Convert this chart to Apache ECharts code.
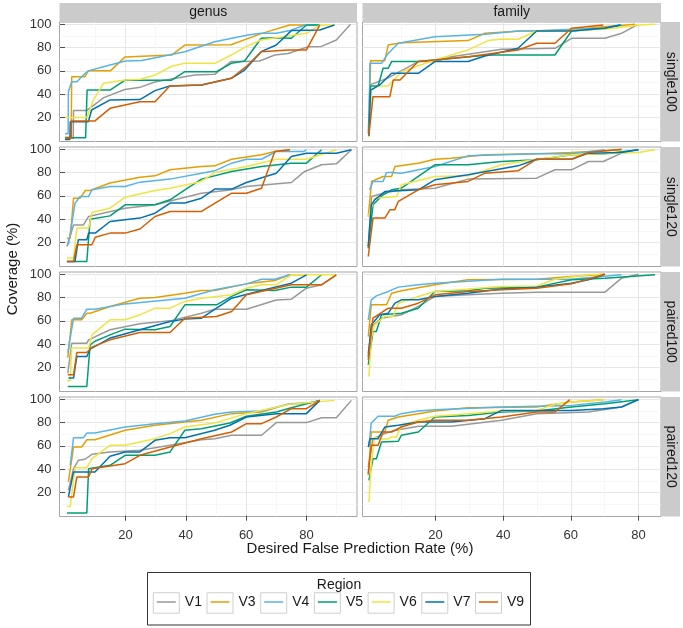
<!DOCTYPE html>
<html><head><meta charset="utf-8">
<script src="https://cdn.jsdelivr.net/npm/echarts@6/dist/echarts.min.js"></script>
<style>html,body{margin:0;padding:0;background:#fff}#c{width:683px;height:628px}</style>
</head><body><div id="c"></div>
<script>
const regions = ['V1','V3','V4','V5','V6','V7','V9'];
const colors = ['#999999','#E69F00','#56B4E9','#009E73','#F0E442','#0072B2','#D55E00'];
const taxa = ['genus','family'];
const designs = ['single100','single120','paired100','paired120'];
const xTicks = [20,40,60,80];
const xMinor = [10,30,50,70,90];
const yTicks = [20,40,60,80,100];
const yMinor = [10,30,50,70,90];

// genus single100
const genus_single100_V1 = [[0,2],[2.7,2],[2.8,26],[7.2,26],[8.8,29],[12.8,37],[19.8,44],[25,46],[30,50.7],[43,56.5],[49.6,57],[55,68],[59.5,68],[64.5,68.5],[69.5,73.6],[74,75],[80.5,80.8],[85,81],[89.9,86.5],[94.6,100]];
const genus_single100_V3 = [[0,3],[2,3],[2.2,55],[6.6,55],[7.7,60],[15,60],[19.9,72],[35.3,73.6],[39.7,82.2],[55,82.5],[65,92],[74.4,99.4],[79.4,99.4]];
const genus_single100_V4 = [[0,6],[1,6],[1.1,42],[2.2,50.7],[3.9,50.7],[5.5,55],[7.7,60],[12.7,63.6],[20,68.5],[25.4,69],[39.7,76.5],[49.6,85],[60.6,90.8],[65,92.3],[70,92.3],[75,95],[79.4,99.4],[84.4,99.4]];
const genus_single100_V5 = [[0,2.6],[6.8,2.6],[7.3,43.5],[14.9,43.5],[19.9,52],[35.3,52],[39.7,59.3],[50.2,59.3],[55.1,66.5],[59.5,68.5],[65,88],[70,88.5],[75,88],[80,99.4],[84.4,99.4]];
const genus_single100_V6 = [[0,20],[7.2,20],[9.4,35],[12.7,49.3],[19.9,52.2],[25,52.8],[29.8,56.4],[35.3,64],[39.7,66.5],[49.6,66.5],[55.1,73.6],[60,80.8],[65,86.5],[70,88.5],[80,92.3],[84.4,99.4],[89.3,99.4]];
const genus_single100_V7 = [[0,1],[1.6,1],[1.7,16.3],[7.7,16.3],[8.8,26.4],[14.9,35],[24.8,35.3],[29.8,43],[34.7,47],[45.2,47.9],[55.1,53.6],[59.5,60.7],[65,76.5],[70,82.2],[75,94.6],[84.4,95.1],[89.3,99.4]];
const genus_single100_V9 = [[0,2],[2,2],[2.1,17],[9.9,17],[14.9,27.8],[24.8,33.5],[29.8,33.5],[34.7,47],[45.2,47.9],[55.1,53.6],[60,63.6],[65,76.5],[74,78],[80,78],[84.4,99.4]];
// family single100
const family_single100_V1 = [[0.1,6],[0.6,48],[6,54],[14.9,68],[19.8,68],[24.7,72.2],[39.5,78.5],[55.3,79.4],[60.2,88],[70.1,88],[75,92.3],[79.5,99.4]];
const family_single100_V3 = [[0.3,8],[0.8,68.8],[5,68.8],[6,82.2],[9.9,84.2],[29.6,86],[34.6,92.3],[45.4,94.3],[60.2,95.1],[69.6,98],[75,98.9],[79,100]];
const family_single100_V4 = [[0.3,12],[0.6,66.5],[4,66.5],[6,75],[9,83.7],[19.8,89.4],[34.6,91.4],[44.4,94.3],[49.9,94.3],[60.2,95.7],[70.1,96.6],[74.5,99.4]];
const family_single100_V5 = [[0.3,9],[0.8,47],[3,47],[4.5,62.2],[6,62.2],[7,68],[14.9,68],[19.8,69.3],[35.6,73.6],[55.3,73.6],[60.2,94.3],[70,96.6],[75,99.4]];
const family_single100_V6 = [[0.3,3],[1,43.5],[3,47],[6,47],[9.9,59.3],[19.8,69.3],[29.6,78],[35.6,86],[39.5,87.4],[44.4,87.2],[49.9,94.3],[55.3,94.3],[70,95.7],[80.3,99.4],[84.9,100]];
const family_single100_V7 = [[0.3,4],[0.8,43.5],[3.5,47.9],[7,57.9],[14.9,57.9],[19.8,68],[29.6,68],[34.6,72.8],[44.4,79.4],[49.9,94.3],[60.2,94.3],[70.1,96.6],[74.5,99.4]];
const family_single100_V9 = [[0.3,5],[1.5,37.8],[6.5,37.8],[7.5,52.2],[9.5,52.2],[11.9,59.3],[14.9,68],[29.6,72.2],[44.4,78],[49.9,83.7],[55.3,83.7],[60.2,96.6],[69.6,99.4]];
// genus single120
const genus_single120_V1 = [[0.6,16.5],[2.8,35],[6.1,35],[7.8,42.3],[19.9,49.4],[29.8,52.3],[45.2,62.3],[54.6,65],[60.1,68],[75,71.5],[79.4,81],[85,86.7],[89.9,87.5],[94.9,99.6]];
const genus_single120_V3 = [[0.6,23.6],[1.7,23.6],[2.8,58],[5,58],[6.7,64.6],[8.3,64.6],[14.9,71],[24.8,76],[29.8,77.2],[34.8,82.4],[45.2,85.3],[49.6,85.8],[55.2,91.5],[65.1,95.3],[69.5,98.1],[74.5,99.6]];
const genus_single120_V4 = [[1.1,18],[3.3,53.8],[5,59.5],[7.8,59.5],[8.9,65.2],[14.9,68],[19.9,68],[24.8,71.8],[34.8,74.4],[45.2,79.5],[49.6,81.5],[55.2,88.1],[60.1,91.5],[65.1,91.5],[70,98.1],[79,98.1],[80,99.6]];
const genus_single120_V5 = [[0.6,3.6],[7.2,3.6],[8.3,40],[14.9,42.8],[19.9,52.3],[29.8,52.3],[34.8,56.6],[39.7,65.2],[45.2,74.4],[55.2,81],[65.1,85.3],[75,88.1],[80,88.1],[85,99.6]];
const genus_single120_V6 = [[0.6,6.5],[2.8,6.5],[3.9,32.3],[7.8,32.3],[8.9,45.7],[14.9,49.4],[19.9,58.9],[29.8,64.6],[34.8,66.6],[45.2,72.4],[49.6,80.1],[60.1,85.3],[70,91.5],[80,91.5],[89.9,99.6]];
const genus_single120_V7 = [[0.6,3.6],[3.3,3.6],[4.4,22.3],[7.2,22.3],[7.8,28],[10,28],[14.9,38],[24.8,40.9],[29.8,45.1],[34.8,53.8],[39.7,53.8],[45.2,58],[49.6,65.8],[55.2,65.8],[60.1,71.5],[70,79.5],[75,93.8],[80,96.7],[89.9,96.7],[94.9,99.6]];
const genus_single120_V9 = [[0.6,3.6],[2.8,3.6],[3.9,18],[8.9,18],[10,24.5],[14.9,28],[19.9,28],[24.8,31.5],[29.8,42.3],[34.8,46.6],[45.2,46.6],[55.2,62.3],[60.1,62.3],[65.1,66.6],[69.5,98.1],[74.5,99.6]];
// family single120
const family_single120_V1 = [[0.1,16.5],[1.1,59.5],[4.5,62.3],[9.9,65.2],[19.8,66.6],[29.6,74.4],[49.9,75.2],[55.3,82.4],[60.2,82.4],[65.2,89.5],[69.6,89.5],[75,96.7]];
const family_single120_V3 = [[0.1,42.3],[1.1,72.4],[4.5,76.7],[7,76.7],[8,85.3],[14.9,88.1],[19.8,91.5],[24.7,92.4],[34.6,95.3],[49.9,96.1],[60.2,97.3],[75,99.6]];
const family_single120_V4 = [[0.5,65.2],[1.5,72.4],[4.5,72.4],[5.5,80.1],[7,80.1],[9.9,79.5],[19.8,85.3],[29.6,94.4],[49.9,96.1],[60.2,96.1],[70.1,99.6]];
const family_single120_V5 = [[0.1,15],[1.5,52.3],[4.5,60.9],[7,65.2],[9.9,66.6],[14.9,76.7],[19.8,86.7],[29.6,86.7],[39.5,89.5],[49.9,91],[60.2,95.3],[70.1,96.1],[80,99.6]];
const family_single120_V6 = [[0.1,42.3],[2,58],[8.5,59.5],[9.9,69.5],[19.8,76.7],[29.6,77.2],[39.5,86.7],[49.9,91.5],[60.2,95.3],[80,97.3],[84.9,99.6]];
const family_single120_V7 = [[0.1,16.5],[1,52.3],[2,56.6],[5,63.7],[14.9,65.2],[19.8,73.8],[29.6,78.1],[44.4,85.8],[49.9,91.5],[60.2,91.5],[65.2,96.7],[75,97.3],[80,99.6]];
const family_single120_V9 = [[0.1,7.9],[1.5,40.9],[5,40.9],[6.5,48],[7.9,48],[9,55.2],[14.9,65.2],[19.8,69.5],[29.6,72.4],[34.6,79.5],[44.4,81.5],[49.9,91.5],[60.2,91.5],[65.2,97.3],[75,100]];
// genus paired100
const genus_paired100_V1 = [[0.9,15],[2.2,40.8],[7.2,40.8],[7.8,43.7],[14.9,52.4],[24.8,57.5],[34.8,60],[45.2,66.6],[49.6,70],[60.1,70],[70,78],[75,78.6],[80,88.1],[85,91],[89.9,99.6]];
const genus_paired100_V3 = [[0.9,28.3],[2.2,61],[5.5,61],[7.2,66.6],[8.3,66.6],[14.9,72.4],[24.8,79.5],[29.8,80],[39.7,83.8],[45.2,86.1],[49.6,86.1],[60.1,91.8],[69.5,94.7],[74.5,99.6],[80,99.6]];
const genus_paired100_V4 = [[0.9,32.8],[2.8,62.3],[5.5,62.3],[7.2,70],[9.9,70],[19.9,74.6],[39.7,79.5],[49.6,86.7],[60.1,91.8],[65.1,95.8],[69.5,95.8],[74.5,99.6]];
const genus_paired100_V5 = [[0.9,3.6],[7.2,3.6],[8.3,39.4],[9.9,42.5],[14.9,48],[19.9,52.9],[29.8,52.3],[34.8,55.2],[39.7,73.8],[50.2,73.8],[55.2,81],[60.1,86.7],[69.5,86.1],[75,89],[80,89],[85,99.6]];
const genus_paired100_V6 = [[0.6,8.5],[1.7,8.5],[2.2,36.6],[7.8,36.6],[8.9,48],[14.9,60.9],[19.9,60.9],[24.8,65.2],[29.8,70.9],[34.8,70.9],[39.7,76.7],[45.2,79.5],[55.2,82.4],[60.1,88.1],[65.1,91],[70,91],[75,99.6],[89.3,99.6]];
const genus_paired100_V7 = [[1.1,10.8],[2.8,10.8],[3.9,29.4],[7.2,29.4],[8.3,35.7],[14.9,45.2],[24.8,52.4],[34.8,59.5],[39.7,61.5],[45.2,62.3],[50.2,70.9],[55.2,79.5],[65.1,86.1],[75,92.4],[80,99.6]];
const genus_paired100_V9 = [[0.9,13.7],[2.8,13.7],[3.9,32.8],[7.2,32.8],[8.9,37.4],[14.9,43.7],[24.8,50],[34.8,50],[39.7,62.3],[50.2,63.8],[55.2,68.1],[60.1,82.4],[75,91],[85,91],[89.9,99.6]];
// family paired100
const family_paired100_V1 = [[0.1,32.3],[1.1,55.2],[4,62.3],[9.9,65.2],[14.9,72.4],[19.8,81],[29.6,82.4],[39.5,83.8],[49.9,84.7],[70.1,84.7],[75,96.7],[80,100]];
const family_paired100_V3 = [[0.1,46.5],[1,73.8],[5.5,73.8],[7,83.8],[9.9,85.8],[19.8,91],[29.6,95.3],[49.9,95.8],[60.2,98.1],[70.1,100]];
const family_paired100_V4 = [[0.1,60.9],[1,78.1],[2.5,81.5],[6,85.3],[9,89],[14.9,91],[19.8,92.4],[39.5,95.8],[60.2,95.8],[75,99.6]];
const family_paired100_V5 = [[0.1,22.3],[1.5,50.9],[2.5,50.9],[4,65.2],[9.9,66.6],[14.9,70.9],[19.8,85.3],[29.6,85.8],[34.6,88.1],[49.9,89],[60.2,95.3],[70.1,96.7],[84.9,99.6]];
const family_paired100_V6 = [[0.3,12.2],[1,45.2],[2,56.6],[5,63.8],[7.5,63.8],[9,75.2],[14.9,81],[19.8,85.3],[29.6,87.3],[39.5,89.5],[49.9,90],[55.3,95.8],[65.2,99.6],[70.1,100]];
const family_paired100_V7 = [[0.1,29.4],[1,56.6],[3.5,65.2],[6,66.6],[8,75.2],[9.9,78.1],[14.9,78.1],[19.8,81],[29.6,83.8],[39.5,87.3],[49.9,89],[60.2,92.4],[65.2,95.3],[70.1,100]];
const family_paired100_V9 = [[0.1,26.6],[1.5,62.3],[3,65.2],[6,70.9],[9.9,70.9],[14.9,75.2],[19.8,82.4],[29.6,85.3],[39.5,86.7],[49.9,88.1],[60.2,91.8],[70.1,100]];
// genus paired120
const genus_paired120_V1 = [[1.1,21.8],[2.8,40.4],[4.4,47.6],[6.6,48.5],[8.9,52.7],[14.9,54.8],[24.8,56.2],[34.8,60.5],[45.2,65.3],[49.6,66.2],[55.2,69.1],[65.1,69.1],[70,80],[80,80],[85,84.2],[89.9,84.2],[94.9,99.1]];
const genus_paired120_V3 = [[1.1,29],[2.8,59],[5.5,59],[7.2,65.3],[9.9,65.3],[19.9,73.4],[29.8,77.7],[45.2,82],[55.2,87.7],[65.1,89.1],[74.5,96.3],[80,96.3],[84.4,99.1]];
const genus_paired120_V4 = [[1.7,43.3],[2.8,67],[6.1,67],[7.2,71],[9.9,71],[19.9,76.2],[29.8,79.1],[39.7,81.4],[49.6,87.1],[55.2,89.1],[65.1,90],[74.5,96.3],[84.4,97.7]];
const genus_paired120_V5 = [[0.6,2.4],[7.2,2.4],[7.8,40.4],[14.9,43.3],[19.9,51.9],[29.8,51.9],[34.8,54.8],[39.7,73.4],[45.2,74.8],[54.6,79.7],[60.1,85.4],[70,89.1],[75,92.8],[84.4,99.1]];
const genus_paired120_V6 = [[0.6,8],[1.7,8],[3.3,41.3],[7.2,41.3],[8.9,49],[14.9,60.5],[19.9,60.5],[29.8,66.2],[34.8,70.5],[39.7,76.2],[49.6,79.7],[60.1,87.7],[74.5,95.7],[89.3,99.1]];
const genus_paired120_V7 = [[1.1,16.1],[2.8,37.6],[9.9,37.6],[14.9,51],[19.9,54.8],[24.8,54.8],[29.8,64.8],[34.8,67],[39.7,67],[49.6,73.4],[54.6,77.7],[60.1,84.8],[70,87.7],[80,87.7],[84.4,99.1]];
const genus_paired120_V9 = [[1.1,16.1],[2.8,16.1],[3.9,33.3],[7.8,33.3],[8.9,40.4],[19.9,44.7],[24.8,51.9],[34.8,59],[45.2,66.2],[55.2,71.9],[60.1,79.1],[65.1,79.1],[70,84.8],[75,92],[80,92],[84.4,99.1]];
// family paired120
const family_paired120_V1 = [[0.1,41.9],[1.5,66.2],[5,70.5],[7.5,73],[14.9,76.8],[24.7,76.8],[39.5,82],[49.9,87.7],[65.2,89.1],[75,93.4],[80,99.7]];
const family_paired120_V3 = [[0.1,34.7],[1,71.9],[5,71.9],[6,82],[9,84.8],[14.9,87.7],[19.8,90],[29.6,92.8],[49.9,93.4],[55.3,95.7],[60.2,97.7],[69.6,99.7]];
const family_paired120_V4 = [[0.3,59],[1,79.7],[3,85.4],[7.9,85.4],[9.9,87.7],[14.9,90],[19.8,91.1],[39.5,93.4],[60.2,94.8],[70.1,97.7],[75,99.7]];
const family_paired120_V5 = [[0.3,30.4],[1.5,49],[2.5,49],[4,63.3],[9,64],[9.9,69.1],[14.9,71.9],[19.8,84.8],[29.6,86.2],[39.5,89.1],[49.9,90],[60.2,93.4],[70.1,96.3],[80,99.7]];
const family_paired120_V6 = [[0.3,11.8],[1,44.7],[2,67.6],[3,66],[6,66],[7,67.6],[8.5,67.6],[9.9,77.7],[14.9,82],[19.8,85.4],[29.6,87.7],[39.5,90],[49.9,90.5],[55.3,95.7],[60.2,97.7],[70.1,99.7]];
const family_paired120_V7 = [[0.1,59],[0.6,66.2],[3,66.2],[5,76.2],[9,77.7],[14.9,80.5],[24.7,80.5],[34.6,83.4],[39.5,90.5],[60.2,90.5],[69.6,92],[75,93.4],[80,99.7]];
const family_paired120_V9 = [[0.1,36.1],[1,60.5],[3,60.5],[4.5,71.9],[7,71.9],[9.9,76.2],[14.9,80.5],[19.8,82],[29.6,82],[39.5,84.8],[49.9,89.1],[55.3,89.1],[59.7,99.7]];

const DATA = {
  genus_single100: [genus_single100_V1,genus_single100_V3,genus_single100_V4,genus_single100_V5,genus_single100_V6,genus_single100_V7,genus_single100_V9],
  family_single100: [family_single100_V1,family_single100_V3,family_single100_V4,family_single100_V5,family_single100_V6,family_single100_V7,family_single100_V9],
  genus_single120: [genus_single120_V1,genus_single120_V3,genus_single120_V4,genus_single120_V5,genus_single120_V6,genus_single120_V7,genus_single120_V9],
  family_single120: [family_single120_V1,family_single120_V3,family_single120_V4,family_single120_V5,family_single120_V6,family_single120_V7,family_single120_V9],
  genus_paired100: [genus_paired100_V1,genus_paired100_V3,genus_paired100_V4,genus_paired100_V5,genus_paired100_V6,genus_paired100_V7,genus_paired100_V9],
  family_paired100: [family_paired100_V1,family_paired100_V3,family_paired100_V4,family_paired100_V5,family_paired100_V6,family_paired100_V7,family_paired100_V9],
  genus_paired120: [genus_paired120_V1,genus_paired120_V3,genus_paired120_V4,genus_paired120_V5,genus_paired120_V6,genus_paired120_V7,genus_paired120_V9],
  family_paired120: [family_paired120_V1,family_paired120_V3,family_paired120_V4,family_paired120_V5,family_paired120_V6,family_paired120_V7,family_paired120_V9]
};

const FONT = '"Liberation Sans", Arial, Helvetica, sans-serif';
const colLeft = [59.5, 362.5], colW = [297.5, 298.5];
const rowTop = [22, 147, 272, 397], rowH = 119.5;
const xRange = [[-1.85, 96.75], [-1.6, 86.66]];
const yRange = [-0.7, 102];

const grids = [], xAxes = [], yAxes = [], series = [], graphics = [];
designs.forEach((d, r) => {
  taxa.forEach((t, c) => {
    const p = grids.length;
    grids.push({left: colLeft[c], top: rowTop[r], width: colW[c], height: rowH, show: true,
      backgroundColor: '#ffffff', borderColor: '#a6a6a6', borderWidth: 1, containLabel: false});
    xAxes.push({type: 'value', gridIndex: p, position: 'top', min: xRange[c][0], max: xRange[c][1],
      axisLine: {show: false}, axisTick: {show: false, customValues: xMinor}, axisLabel: {show: false},
      splitLine: {show: true, lineStyle: {color: '#f3f3f3', width: 0.7}}});
    xAxes.push({type: 'value', gridIndex: p, position: 'bottom', min: xRange[c][0], max: xRange[c][1],
      axisLine: {show: false},
      axisTick: {show: r === 3, customValues: xTicks, length: 5, lineStyle: {color: '#4d4d4d'}},
      axisLabel: {show: r === 3, customValues: xTicks, margin: 12, fontSize: 13, color: '#333', fontFamily: FONT},
      splitLine: {show: true, lineStyle: {color: '#e6e6e6', width: 1}}});
    yAxes.push({type: 'value', gridIndex: p, position: 'right', min: yRange[0], max: yRange[1],
      axisLine: {show: false}, axisTick: {show: false, customValues: yMinor}, axisLabel: {show: false},
      splitLine: {show: true, lineStyle: {color: '#f3f3f3', width: 0.7}}});
    yAxes.push({type: 'value', gridIndex: p, position: 'left', min: yRange[0], max: yRange[1],
      axisLine: {show: false},
      axisTick: {show: c === 0, customValues: yTicks, length: 5, lineStyle: {color: '#4d4d4d'}},
      axisLabel: {show: c === 0, customValues: yTicks, margin: 8, fontSize: 13, color: '#333', fontFamily: FONT},
      splitLine: {show: true, lineStyle: {color: '#e6e6e6', width: 1}}});
    const arrs = DATA[t + '_' + d];
    regions.forEach((v, i) => {
      series.push({name: v, type: 'line', xAxisIndex: 2 * p + 1, yAxisIndex: 2 * p + 1, data: arrs[i],
        showSymbol: false, symbol: 'none', silent: true, animation: false,
        lineStyle: {color: colors[i], width: 1.5}, itemStyle: {color: colors[i]},
        emphasis: {disabled: true}});
    });
  });
});

// facet strips
taxa.forEach((t, c) => {
  graphics.push({type: 'rect', shape: {x: colLeft[c], y: 3, width: colW[c], height: 19}, style: {fill: '#cbcbcb'}, silent: true});
  graphics.push({type: 'text', x: colLeft[c] + colW[c] / 2, y: 12.5, silent: true,
    style: {text: t, fontSize: 14, fontFamily: FONT, fill: '#1a1a1a', align: 'center', verticalAlign: 'middle'}});
});
designs.forEach((d, r) => {
  graphics.push({type: 'rect', shape: {x: 661, y: rowTop[r], width: 19, height: rowH}, style: {fill: '#cbcbcb'}, silent: true});
  graphics.push({type: 'text', x: 670.5, y: rowTop[r] + rowH / 2, rotation: -Math.PI / 2, silent: true,
    style: {text: d, fontSize: 14, fontFamily: FONT, fill: '#1a1a1a', align: 'center', verticalAlign: 'middle'}});
});
// axis titles
graphics.push({type: 'text', x: 13, y: 269, rotation: Math.PI / 2, silent: true,
  style: {text: 'Coverage (%)', fontSize: 15, fontFamily: FONT, fill: '#1a1a1a', align: 'center', verticalAlign: 'middle'}});
graphics.push({type: 'text', x: 360, y: 549, silent: true,
  style: {text: 'Desired False Prediction Rate (%)', fontSize: 15, fontFamily: FONT, fill: '#1a1a1a', align: 'center', verticalAlign: 'middle'}});
// legend frame
graphics.push({type: 'rect', shape: {x: 147.5, y: 572.5, width: 383, height: 52.5}, style: {fill: '#fff', stroke: '#333', lineWidth: 1}, silent: true, z: -1});
graphics.push({type: 'text', x: 339, y: 585, silent: true,
  style: {text: 'Region', fontSize: 14, fontFamily: FONT, fill: '#1a1a1a', align: 'center', verticalAlign: 'middle'}});
const legends = [];
regions.forEach((v, i) => {
  const bx = 153.3 + i * 53.7;
  graphics.push({type: 'rect', shape: {x: bx, y: 592.7, width: 26, height: 20.5}, style: {fill: '#fff', stroke: '#cfcfcf', lineWidth: 1}, silent: true});
  legends.push({data: [v], left: bx + 3.5, top: 595, orient: 'horizontal', icon: 'rect', itemWidth: 19, itemHeight: 1.5,
    padding: 0, itemGap: 0, selectedMode: false,
    textStyle: {fontSize: 14, color: '#1a1a1a', fontFamily: FONT, padding: [0, 0, 0, 4]}});
});

const chart = echarts.init(document.getElementById('c'), null, {renderer: 'canvas'});
chart.setOption({
  animation: false,
  backgroundColor: '#ffffff',
  textStyle: {fontFamily: FONT},
  grid: grids, xAxis: xAxes, yAxis: yAxes, series: series,
  legend: legends,
  graphic: {elements: graphics}
});
</script>
</body></html>
